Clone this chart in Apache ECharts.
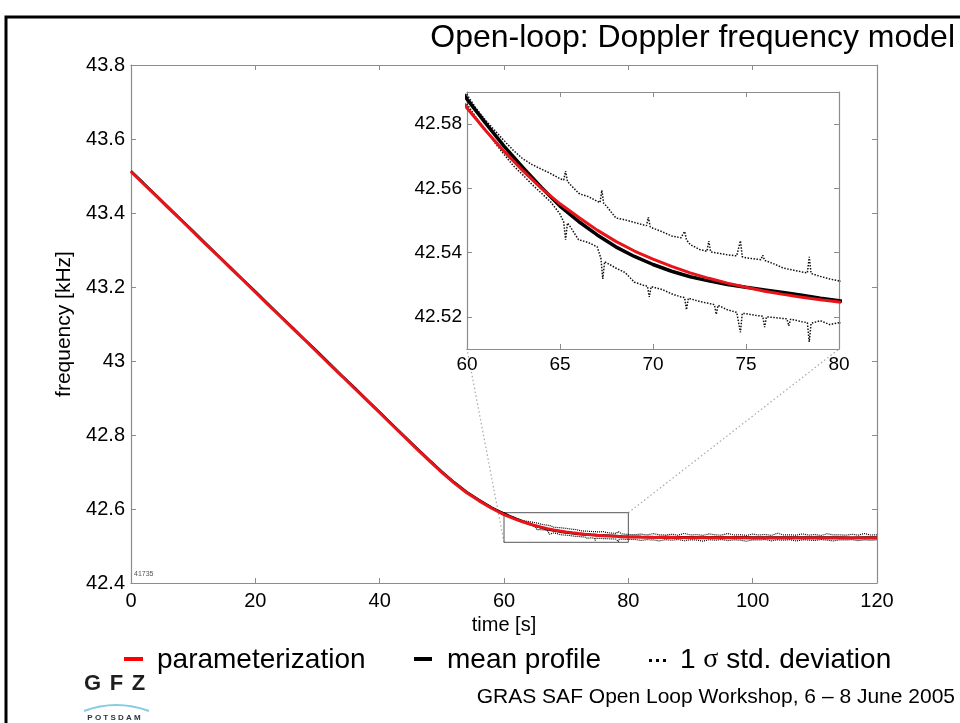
<!DOCTYPE html>
<html><head><meta charset="utf-8">
<script src="https://cdn.jsdelivr.net/npm/echarts@6/dist/echarts.min.js"></script>
<style>html,body{margin:0;padding:0;background:#fff}#c{width:960px;height:723px}</style>
</head><body><div id="c"></div>
<script>
// ---- data ----
const titleText = 'Open-loop: Doppler frequency model';
const footerText = 'GRAS SAF Open Loop Workshop, 6 \u2013 8 June 2005';
const xName = 'time [s]';
const yName = 'frequency [kHz]';
const insetYTicks = [42.52, 42.54, 42.56, 42.58];
const zoomBox = { t0: 60, t1: 80, f0: 42.51, f1: 42.59 };

const mainTime = [0,2,4,6,8,10,12,14,16,18,20,22,24,26,28,30,32,34,36,38,40,42,44,46,48,50,52,54,56,58,
  60,61,62,63,64,65,66,67,68,69,70,71,72,73,74,75,76,77,78,79,80,
  82,84,86,88,90,92,94,96,98,100,102,104,106,108,110,112,114,116,118,120];
const paramValues = [43.512,43.479,43.447,43.414,43.382,43.349,43.316,43.284,43.251,43.219,43.186,43.153,43.121,43.088,43.056,43.023,42.990,42.958,42.925,42.893,42.860,42.827,42.795,42.762,42.730,42.699,42.670,42.644,42.622,42.602,
  42.5850,42.5780,42.5715,42.5655,42.5600,42.5552,42.5510,42.5470,42.5435,42.5405,42.5380,42.5357,42.5337,42.5320,42.5305,42.5292,42.5280,42.5270,42.5261,42.5253,42.5246,
  42.5240,42.5235,42.5231,42.5228,42.5226,42.5224,42.5222,42.5221,42.5220,42.5219,42.5218,42.5218,42.5217,42.5217,42.5216,42.5216,42.5216,42.5215,42.5215,42.5215];
const meanValues = [43.513,43.481,43.448,43.416,43.383,43.351,43.318,43.285,43.253,43.220,43.188,43.155,43.122,43.090,43.057,43.025,42.992,42.959,42.927,42.894,42.862,42.829,42.796,42.764,42.732,42.701,42.672,42.646,42.624,42.604,
  42.5878,42.5803,42.5731,42.5665,42.5603,42.5545,42.5497,42.5455,42.5418,42.5388,42.5363,42.5342,42.5325,42.5312,42.5301,42.5292,42.5284,42.5276,42.5267,42.5258,42.5250,
  42.5243,42.5239,42.5241,42.5236,42.5238,42.5233,42.5236,42.5231,42.5234,42.5230,42.5233,42.5229,42.5231,42.5228,42.5232,42.5227,42.5230,42.5226,42.5229,42.5227];

const upperTime = [56,56.5,57,57.5,58,58.5,59,59.5,60,60.5,61,61.5,62,62.5,63,63.5,64,64.5,65,65.2,65.3,65.4,65.5,66,66.1,66.2,66.5,67,67.15,67.25,67.35,67.5,68,68.5,69,69.5,69.65,69.75,69.85,70,70.5,71,71.5,71.6,71.7,71.8,72,72.5,72.9,73,73.1,73.5,74,74.5,74.6,74.7,74.8,75,75.5,75.8,75.9,76,76.5,77,77.5,78,78.3,78.4,78.5,79,79.5,80,
  81,82,83,84,85,86,87,88,89,90,91,92,93,94,95,96,97,98,99,100,101,102,103,104,105,106,107,108,109,110,111,112,113,114,115,116,117,118,119,120];
const upperValues = [42.6255,42.6200,42.6150,42.6100,42.6055,42.6010,42.5968,42.5925,42.5892,42.5848,42.5812,42.5780,42.5748,42.5718,42.5692,42.5674,42.5660,42.5646,42.5630,42.5626,42.5654,42.5622,42.5615,42.5585,42.5590,42.5580,42.5575,42.5560,42.5556,42.5594,42.5553,42.5545,42.5508,42.5502,42.5494,42.5486,42.5484,42.5510,42.5480,42.5476,42.5465,42.5452,42.5446,42.5444,42.5466,42.5440,42.5425,42.5410,42.5404,42.5436,42.5402,42.5398,42.5393,42.5390,42.5389,42.5437,42.5387,42.5384,42.5380,42.5378,42.5392,42.5376,42.5365,42.5352,42.5346,42.5340,42.5337,42.5387,42.5335,42.5326,42.5318,42.5312,
  42.5305,42.5322,42.5298,42.5335,42.5302,42.5296,42.5318,42.5291,42.5342,42.5299,42.5307,42.5288,42.5326,42.5301,42.5294,42.5338,42.5297,42.5305,42.5289,42.5321,42.5296,42.5312,42.5287,42.5345,42.5298,42.5303,42.5292,42.5327,42.5295,42.5309,42.5286,42.5331,42.5299,42.5304,42.5291,42.5318,42.5293,42.5336,42.5297,42.5302];
const lowerTime = [56,56.5,57,57.5,58,58.5,59,59.5,60,60.5,61,61.5,62,62.5,63,63.5,64,64.5,65,65.2,65.3,65.4,65.5,66,66.5,67,67.2,67.3,67.4,67.5,68,68.5,69,69.5,69.7,69.8,69.9,70,70.5,71,71.5,71.7,71.8,71.9,72,72.5,73,73.3,73.4,73.5,74,74.5,74.6,74.7,74.8,75,75.5,75.9,76,76.1,76.5,77,77.2,77.3,77.4,77.5,78,78.3,78.4,78.5,79,79.5,80,
  81,82,83,84,85,86,87,88,89,90,91,92,93,94,95,96,97,98,99,100,101,102,103,104,105,106,107,108,109,110,111,112,113,114,115,116,117,118,119,120];
const lowerValues = [42.6225,42.6172,42.6122,42.6072,42.6025,42.5980,42.5938,42.5898,42.5862,42.5820,42.5782,42.5742,42.5705,42.5670,42.5642,42.5612,42.5585,42.5558,42.5520,42.5495,42.5440,42.5492,42.5485,42.5440,42.5432,42.5418,42.5382,42.5318,42.5372,42.5366,42.5352,42.5338,42.5308,42.5298,42.5296,42.5262,42.5294,42.5290,42.5285,42.5272,42.5262,42.5260,42.5222,42.5258,42.5252,42.5248,42.5242,42.5238,42.5208,42.5236,42.5222,42.5214,42.5213,42.5152,42.5211,42.5210,42.5205,42.5202,42.5168,42.5200,42.5198,42.5195,42.5194,42.5172,42.5193,42.5190,42.5185,42.5182,42.5122,42.5180,42.5188,42.5176,42.5182,
  42.5178,42.5152,42.5171,42.5165,42.5138,42.5172,42.5158,42.5176,42.5142,42.5168,42.5161,42.5131,42.5170,42.5157,42.5174,42.5146,42.5166,42.5159,42.5128,42.5169,42.5162,42.5175,42.5141,42.5165,42.5156,42.5172,42.5135,42.5167,42.5160,42.5149,42.5173,42.5158,42.5139,42.5168,42.5163,42.5171,42.5144,42.5166,42.5155,42.5169];

// ---- chart ----
const FONT = '"Liberation Sans", Arial, Helvetica, sans-serif';
const AX = '#8c8c8c';
const RED = '#e8141a';
const pairs = (t, v) => t.map((x, i) => [x, v[i]]);

const chart = echarts.init(document.getElementById('c'), null, { renderer: 'canvas' });

function ax(grid, pos, min, max, interval, labels, extra) {
  return Object.assign({
    gridIndex: grid, type: 'value', position: pos, min, max, interval,
    axisLine: { show: true, onZero: false, lineStyle: { color: AX, width: 1.2 } },
    axisTick: { show: true, inside: true, length: 5, lineStyle: { color: AX } },
    axisLabel: { show: labels, color: '#000', fontFamily: FONT },
    splitLine: { show: false }
  }, extra || {});
}

const insetTick = { show: true, inside: true, length: 5, lineStyle: { color: AX }, customValues: insetYTicks };
const dotMain = { color: '#000', width: 1.2, type: [1, 1] };
const dotInset = { color: '#111', width: 1.5, type: [1.5, 1.5] };

const option = {
  animation: false,
  backgroundColor: '#fff',
  title: [{
    text: titleText, right: 5, top: 22, padding: 0,
    textStyle: { fontSize: 32, fontWeight: 'normal', color: '#000', fontFamily: FONT }
  }],
  grid: [
    { left: 131, top: 65, right: 83, bottom: 140, show: false },
    { left: 467, top: 92, width: 372, height: 257, show: true, backgroundColor: '#fff', borderWidth: 0, z: 5 }
  ],
  xAxis: [
    ax(0, 'bottom', 0, 120, 20, true, {
      axisLabel: { show: true, color: '#000', fontFamily: FONT, fontSize: 20, margin: 8 },
      name: xName, nameLocation: 'middle', nameGap: 31,
      nameTextStyle: { fontSize: 20, color: '#000', fontFamily: FONT }
    }),
    ax(0, 'top', 0, 120, 20, false),
    ax(1, 'bottom', 60, 80, 5, true, {
      z: 6, axisLabel: { show: true, color: '#000', fontFamily: FONT, fontSize: 19, margin: 6 }
    }),
    ax(1, 'top', 60, 80, 5, false, { z: 6 })
  ],
  yAxis: [
    ax(0, 'left', 42.4, 43.8, 0.2, true, {
      axisLabel: { show: true, color: '#000', fontFamily: FONT, fontSize: 20, margin: 6 },
      name: yName, nameLocation: 'middle', nameGap: 55,
      nameTextStyle: { fontSize: 21, color: '#000', fontFamily: FONT }
    }),
    ax(0, 'right', 42.4, 43.8, 0.2, false),
    ax(1, 'left', zoomBox.f0, zoomBox.f1, null, true, {
      z: 6, axisTick: insetTick,
      axisLabel: { show: true, color: '#000', fontFamily: FONT, fontSize: 19, margin: 5, customValues: insetYTicks }
    }),
    ax(1, 'right', zoomBox.f0, zoomBox.f1, null, false, { z: 6, axisTick: insetTick })
  ],
  series: [
    { name: '1 \u03c3 std. deviation', type: 'line', xAxisIndex: 0, yAxisIndex: 0, data: pairs(upperTime, upperValues),
      showSymbol: false, silent: true, z: 2, lineStyle: dotMain },
    { name: '1 \u03c3 std. deviation', type: 'line', xAxisIndex: 0, yAxisIndex: 0, data: pairs(lowerTime, lowerValues),
      showSymbol: false, silent: true, z: 2, lineStyle: dotMain },
    { name: 'mean profile', type: 'line', xAxisIndex: 0, yAxisIndex: 0, data: pairs(mainTime, meanValues),
      showSymbol: false, silent: true, z: 2, lineStyle: { color: '#000', width: 2.5 },
      markArea: { silent: true, itemStyle: { color: 'rgba(0,0,0,0)', borderColor: '#555', borderWidth: 1 },
        data: [[{ coord: [zoomBox.t0, zoomBox.f0] }, { coord: [zoomBox.t1, zoomBox.f1] }]] } },
    { name: 'parameterization', type: 'line', xAxisIndex: 0, yAxisIndex: 0, data: pairs(mainTime, paramValues),
      showSymbol: false, silent: true, z: 3, lineStyle: { color: RED, width: 3 } },

    { name: '1 \u03c3 std. deviation', type: 'line', xAxisIndex: 2, yAxisIndex: 2, data: pairs(upperTime, upperValues),
      showSymbol: false, silent: true, z: 7, lineStyle: dotInset },
    { name: '1 \u03c3 std. deviation', type: 'line', xAxisIndex: 2, yAxisIndex: 2, data: pairs(lowerTime, lowerValues),
      showSymbol: false, silent: true, z: 7, lineStyle: dotInset },
    { name: 'mean profile', type: 'line', xAxisIndex: 2, yAxisIndex: 2, data: pairs(mainTime, meanValues),
      showSymbol: false, silent: true, z: 8, lineStyle: { color: '#000', width: 3.5 } },
    { name: 'parameterization', type: 'line', xAxisIndex: 2, yAxisIndex: 2, data: pairs(mainTime, paramValues),
      showSymbol: false, silent: true, z: 9, lineStyle: { color: RED, width: 3 } }
  ],
  graphic: { elements: [
    { id: 'frame', type: 'rect', silent: true, shape: { x: 6, y: 17, width: 1000, height: 800 },
      style: { fill: 'none', stroke: '#000', lineWidth: 3 } },
    { id: 'tag', type: 'text', silent: true, z: 3, style: { text: '41735', x: 134, y: 574, fontSize: 7, fontFamily: FONT, fill: '#555', verticalAlign: 'middle' } },
    // legend
    { id: 'lg1i', type: 'rect', silent: true, shape: { x: 124, y: 657, width: 19, height: 4 }, style: { fill: '#ff0000' } },
    { id: 'lg1t', type: 'text', silent: true, style: { text: 'parameterization', x: 157, y: 660, fontSize: 28, fontFamily: FONT, fill: '#000', verticalAlign: 'middle' } },
    { id: 'lg2i', type: 'rect', silent: true, shape: { x: 414, y: 657, width: 18, height: 4 }, style: { fill: '#000' } },
    { id: 'lg2t', type: 'text', silent: true, style: { text: 'mean profile', x: 447, y: 660, fontSize: 28, fontFamily: FONT, fill: '#000', verticalAlign: 'middle' } },
    { id: 'lg3a', type: 'rect', silent: true, shape: { x: 649, y: 659, width: 3, height: 3 }, style: { fill: '#000' } },
    { id: 'lg3b', type: 'rect', silent: true, shape: { x: 656, y: 659, width: 3, height: 3 }, style: { fill: '#000' } },
    { id: 'lg3c', type: 'rect', silent: true, shape: { x: 663, y: 659, width: 3, height: 3 }, style: { fill: '#000' } },
    { id: 'lg3t', type: 'text', silent: true, style: { text: '1 {s|\u03c3} std. deviation', x: 680, y: 660, fontSize: 28, fontFamily: FONT, fill: '#000', verticalAlign: 'middle',
      rich: { s: { fontSize: 28, fontFamily: '"Liberation Serif", "Times New Roman", serif', fill: '#000' } } } },
    // footer
    { id: 'foot', type: 'text', silent: true, style: { text: footerText, x: 955, y: 697, fontSize: 21, fontFamily: FONT, fill: '#000', align: 'right', verticalAlign: 'middle' } },
    // GFZ logo
    { id: 'g1', type: 'text', silent: true, style: { text: 'G', x: 92.5, y: 684, fontSize: 22, fontWeight: 'bold', fontFamily: FONT, fill: '#1e1e1e', align: 'center', verticalAlign: 'middle' } },
    { id: 'g2', type: 'text', silent: true, style: { text: 'F', x: 116.5, y: 684, fontSize: 22, fontWeight: 'bold', fontFamily: FONT, fill: '#1e1e1e', align: 'center', verticalAlign: 'middle' } },
    { id: 'g3', type: 'text', silent: true, style: { text: 'Z', x: 138.5, y: 684, fontSize: 22, fontWeight: 'bold', fontFamily: FONT, fill: '#1e1e1e', align: 'center', verticalAlign: 'middle' } },
    { id: 'arc', type: 'bezierCurve', silent: true, shape: { x1: 84, y1: 711, x2: 149, y2: 711, cpx1: 116, cpy1: 699 },
      style: { stroke: '#86cbe6', lineWidth: 2.2, fill: 'none' } },
    { id: 'pots', type: 'text', silent: true, style: { text: 'P O T S D A M', x: 114, y: 718, fontSize: 8, fontWeight: 'bold', fontFamily: FONT, fill: '#2b3440', align: 'center', verticalAlign: 'middle' } }
  ] }
};

chart.setOption(option);

// zoom connector lines computed from data coordinates
const a1 = chart.convertToPixel({ xAxisIndex: 0, yAxisIndex: 0 }, [zoomBox.t0, zoomBox.f0]);
const b1 = chart.convertToPixel({ xAxisIndex: 2, yAxisIndex: 2 }, [zoomBox.t0, zoomBox.f0]);
const a2 = chart.convertToPixel({ xAxisIndex: 0, yAxisIndex: 0 }, [zoomBox.t1, zoomBox.f1]);
const b2 = chart.convertToPixel({ xAxisIndex: 2, yAxisIndex: 2 }, [zoomBox.t1, zoomBox.f0]);
const connStyle = { stroke: '#a8a8a8', lineWidth: 1.2, lineDash: [1.5, 2.5], fill: 'none' };
chart.setOption({ graphic: { elements: [
  { id: 'conn1', type: 'line', silent: true, z: 1, shape: { x1: a1[0], y1: a1[1], x2: b1[0], y2: b1[1] }, style: connStyle },
  { id: 'conn2', type: 'line', silent: true, z: 1, shape: { x1: a2[0], y1: a2[1], x2: b2[0], y2: b2[1] }, style: connStyle }
] } });
</script>
</body></html>
